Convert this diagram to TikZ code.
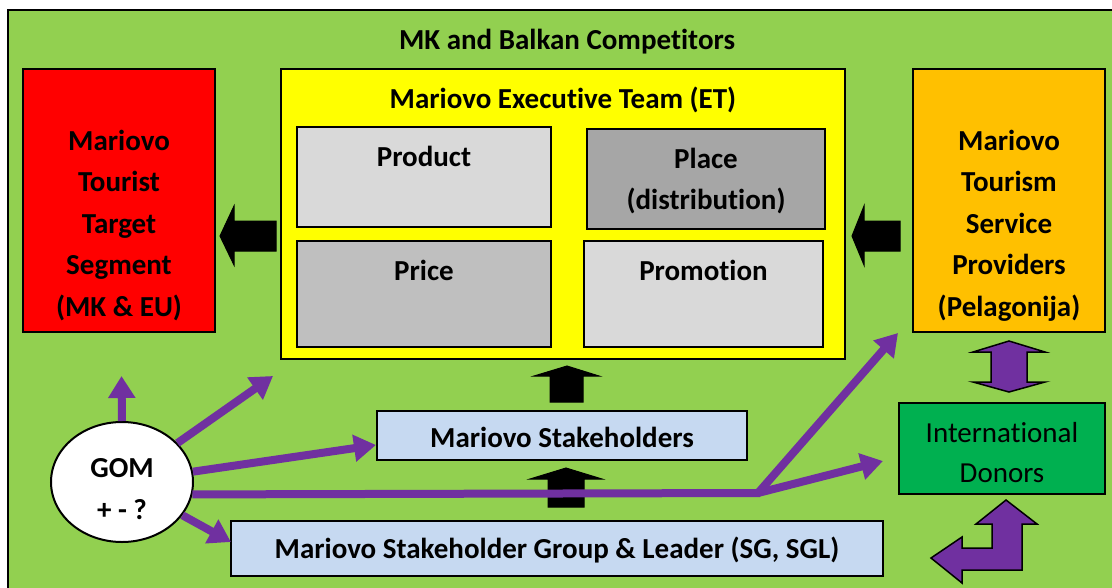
\documentclass[tikz,border=0pt]{standalone}
\usepackage{fontspec}
\setmainfont{Carlito}[Ligatures=NoCommon]
\usetikzlibrary{arrows.meta,shapes.geometric}
\definecolor{bggreen}{HTML}{92D050}
\definecolor{segred}{HTML}{FF0000}
\definecolor{etyellow}{HTML}{FFFF00}
\definecolor{provorange}{HTML}{FFC000}
\definecolor{greyA}{HTML}{D9D9D9}
\definecolor{greyB}{HTML}{BFBFBF}
\definecolor{greyC}{HTML}{A6A6A6}
\definecolor{paleblue}{HTML}{C6D9F1}
\definecolor{donorgreen}{HTML}{00B050}
\definecolor{violet}{HTML}{7030A0}
\tikzset{
  box/.style={draw=black,line width=2pt,rectangle,inner sep=0pt},
  lbl/.style={font=\fontsize{29}{41.5}\selectfont\bfseries,align=center,anchor=base,inner sep=0pt},
  rlbl/.style={font=\fontsize{29}{40}\selectfont,align=center,anchor=base,inner sep=0pt},
  pline/.style={draw=violet,line width=8pt,-{Triangle[length=22pt,width=26pt]}},
  blockblack/.style={fill=black,draw=black,line width=1pt,line join=miter},
  blockviolet/.style={fill=violet,draw=black,line width=1.5pt,line join=miter},
}
\begin{document}
\begin{tikzpicture}[x=1pt,y=-1pt]
\useasboundingbox (0,0) rectangle (1112,587);
\fill[white] (0,0) rectangle (1112,587);
\filldraw[fill=bggreen,draw=black,line width=2pt] (8,10) rectangle (1125,600);

\node[lbl] (title) at (567,49) {MK and Balkan Competitors};

% left red box
\node[box,fill=segred,minimum width=192pt,minimum height=263pt] (seg) at (119,200.5) {};
\node[lbl] (segtxt) at (119,316.3) {Mariovo\\Tourist\\Target\\Segment\\(MK \& EU)};

% executive team
\node[box,fill=etyellow,minimum width=564pt,minimum height=290pt] (et) at (563,214) {};
\node[lbl] (ettxt) at (563,108) {Mariovo Executive Team (ET)};
\node[box,fill=greyA,minimum width=254pt,minimum height=100pt] (product) at (424,177) {};
\node[lbl] (producttxt) at (424,166) {Product};
\node[box,fill=greyB,minimum width=254pt,minimum height=106pt] (price) at (424,294) {};
\node[lbl] (pricetxt) at (424,280) {Price};
\node[box,fill=greyC,minimum width=238pt,minimum height=100pt] (place) at (706,179) {};
\node[lbl,font=\fontsize{29}{41}\selectfont\bfseries] (placetxt) at (706,209) {Place\\(distribution)};
\node[box,fill=greyA,minimum width=239pt,minimum height=106pt] (promo) at (703.5,294) {};
\node[lbl] (promotxt) at (703.5,280) {Promotion};

% right orange box
\node[box,fill=provorange,minimum width=192pt,minimum height=263pt] (prov) at (1009,200.5) {};
\node[lbl] (provtxt) at (1009,316.3) {Mariovo\\Tourism\\Service\\Providers\\(Pelagonija)};

% stakeholders
\node[box,fill=paleblue,minimum width=370pt,minimum height=49pt] (stake) at (562,435.5) {};
\node[lbl] (staketxt) at (562,447) {Mariovo Stakeholders};
\node[box,fill=paleblue,minimum width=652pt,minimum height=55pt] (sg) at (557,548.5) {};
\node[lbl] (sgtxt) at (557,558) {Mariovo Stakeholder Group \& Leader (SG, SGL)};

% donors
\node[box,fill=donorgreen,minimum width=206pt,minimum height=91pt] (donors) at (1002,448.5) {};
\node[rlbl] (donorstxt) at (1002,482) {International\\Donors};

% GOM
\node[ellipse,draw=black,line width=2pt,fill=white,minimum width=142pt,minimum height=120pt,inner sep=0pt] (gom) at (122,482) {};
\node[lbl] (gomtxt) at (122,477) {GOM};
\node[lbl] (gomtxtb) at (122,519) {+ - ?};

% black block arrows
\draw[blockblack] (220,236) -- (234,206) -- (234,221) -- (276,221) -- (276,251) -- (234,251) -- (234,265) -- cycle;
\draw[blockblack] (852,236) -- (864,206) -- (864,221) -- (900,221) -- (900,251) -- (864,251) -- (864,265) -- cycle;
\draw[blockblack] (567,366) -- (599,376) -- (583,376) -- (583,402) -- (550,402) -- (550,376) -- (534,376) -- cycle;
\draw[blockblack] (566,468) -- (602,479) -- (584,479) -- (584,507) -- (548,507) -- (548,479) -- (530,479) -- cycle;

% violet block arrows
\draw[blockviolet] (1009,341) -- (1045,352) -- (1027,352) -- (1027,382) -- (1045,382) -- (1009,392) -- (973,382) -- (991,382) -- (991,352) -- (973,352) -- cycle;
\draw[blockviolet] (1006,500) -- (1037,524) -- (1022,524) -- (1022,570) -- (962,570) -- (962,583) -- (931,558) -- (962,537) -- (962,548) -- (992,548) -- (992,524) -- (976,524) -- cycle;

% violet connectors from GOM
\coordinate (tipup) at (121.5,376);
\coordinate (tipet) at (273,376);
\coordinate (tipstake) at (376,445);
\coordinate (junction) at (758,493);
\coordinate (tipprov) at (898,333);
\coordinate (tipdonors) at (883,461);
\coordinate (tipsg) at (231,542);
\draw[pline] (gom.north) -- (tipup);
\draw[pline] (gom) -- (tipet);
\draw[pline] (gom) -- (tipstake);
\draw[pline] (gom.-10) -- (junction) -- (tipprov);
\draw[pline] (junction) -- (tipdonors);
\draw[pline] (gom) -- (tipsg);
\end{tikzpicture}
\end{document}
